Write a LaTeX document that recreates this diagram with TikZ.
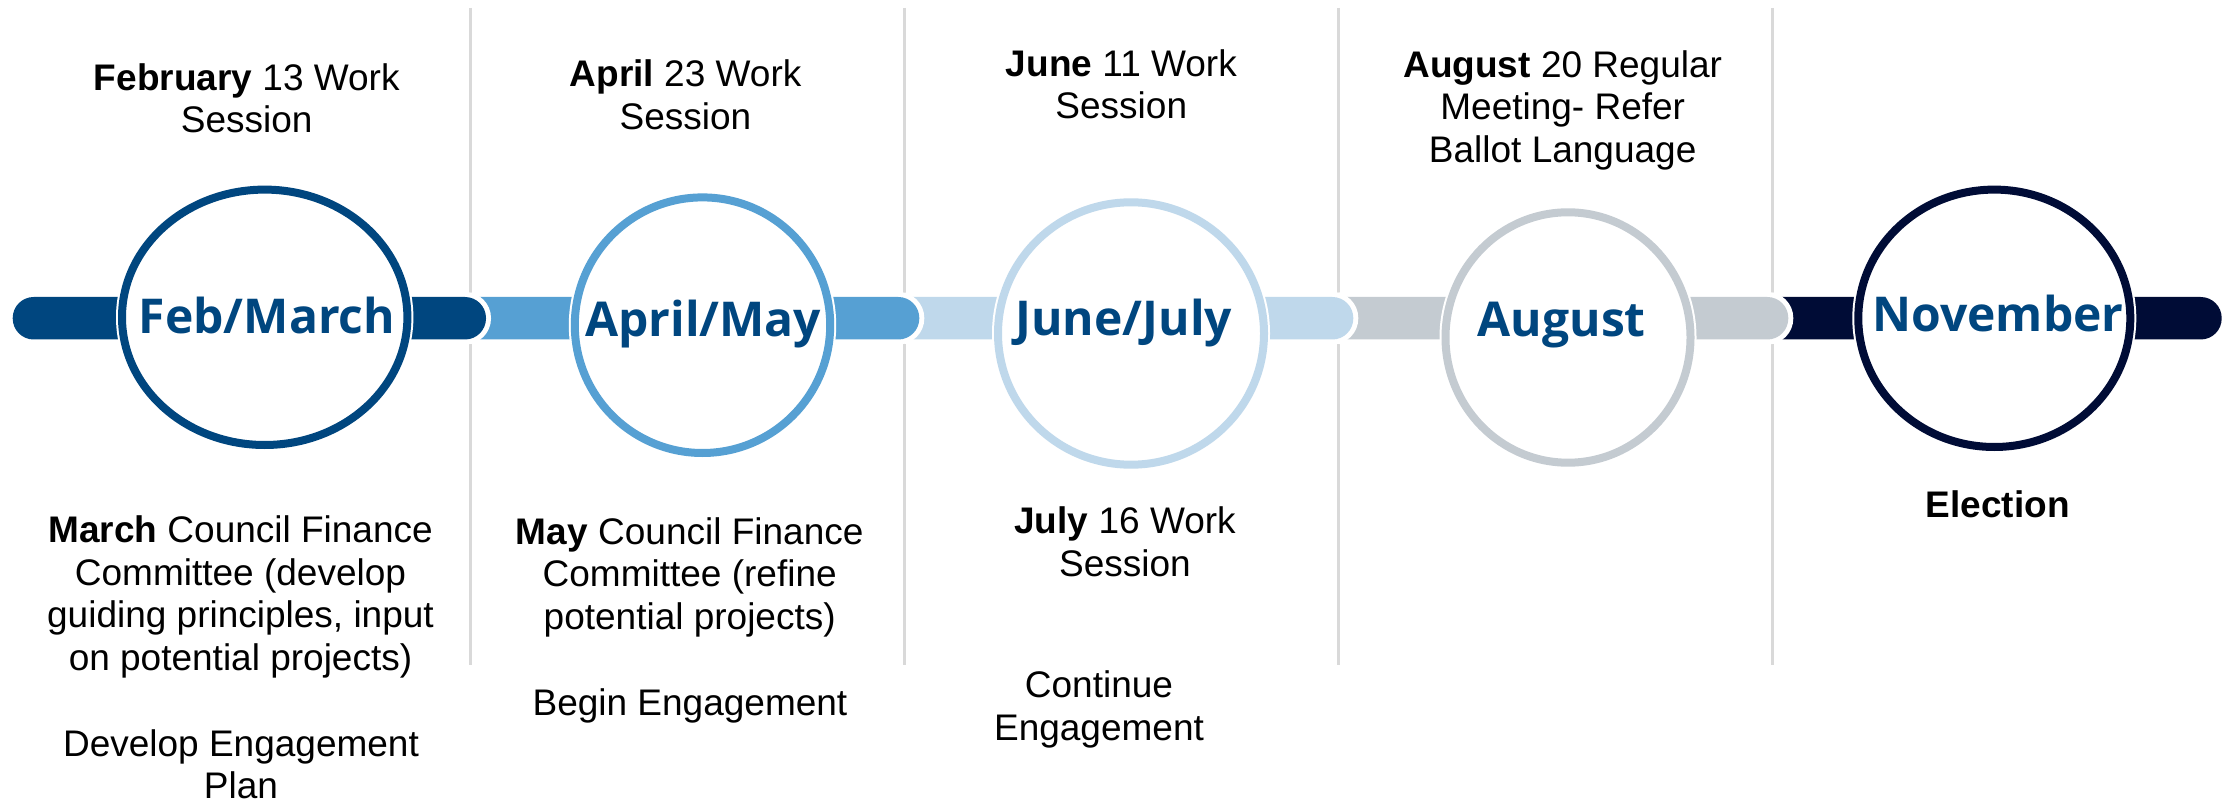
\documentclass[tikz,border=0pt]{standalone}
\usepackage{fontspec}
\setmainfont{Liberation Sans}
\newfontfamily\labfont{Open Sans}
\usetikzlibrary{shapes.geometric}
\definecolor{segA}{HTML}{00467F}
\definecolor{segB}{HTML}{56A0D3}
\definecolor{segC}{HTML}{BFD8EB}
\definecolor{segD}{HTML}{C4CBD1}
\definecolor{segE}{HTML}{000C36}
\definecolor{labblue}{HTML}{00467F}
\definecolor{sepgray}{HTML}{D9D9D9}
\tikzset{
  txt/.style={font=\fontsize{37}{42.5}\selectfont, align=center, inner sep=0pt, anchor=base, text=black},
  lab/.style={font=\labfont\bfseries\fontsize{48}{52}\selectfont, text=labblue, inner sep=0pt, anchor=base},
  ring/.style={ellipse, inner sep=0pt, fill=white, line width=8pt, preaction={draw=white, line width=12pt}},
  sep/.style={draw=sepgray, line width=3pt},
  halo/.style={fill=white, rounded corners=26pt},
  seg/.style={rounded corners=21pt}
}
\begin{document}
\begin{tikzpicture}[x=1pt,y=-1pt]
\useasboundingbox (0,0) rectangle (2236,802);
\fill[white] (0,0) rectangle (2236,802);
% separators
\foreach \sx in {470.5,904,1338.5,1772.5} {
  \draw[sep] (\sx,8) -- (\sx,665);
}
% bar segments, last first
\fill[halo] (1753,292) rectangle (2226.7,344.5);
\fill[segE,seg] (1758,297) rectangle (2221.7,339.5);
\fill[halo] (1318,292) rectangle (1793.3,344.5);
\fill[segD,seg] (1323,297) rectangle (1788.3,339.5);
\fill[halo] (885,292) rectangle (1358.3,344.5);
\fill[segC,seg] (890,297) rectangle (1353.3,339.5);
\fill[halo] (451,292) rectangle (924.3,344.5);
\fill[segB,seg] (456,297) rectangle (919.3,339.5);
\fill[halo] (7.7,292) rectangle (491,344.5);
\fill[segA,seg] (12.7,297) rectangle (486,339.5);
% rings
\node[ring, draw=segA, minimum width=285.4pt, minimum height=255.4pt] (c1) at (264.7,317.3) {};
\node[ring, draw=segB, minimum width=255.4pt, minimum height=255.6pt] (c2) at (702.5,325.2) {};
\node[ring, draw=segC, minimum width=266pt, minimum height=262.4pt] (c3) at (1131,333.5) {};
\node[ring, draw=segD, minimum width=245pt, minimum height=250.4pt] (c4) at (1568,337.5) {};
\node[ring, draw=segE, minimum width=272pt, minimum height=257.4pt] (c5) at (1994.3,318.3) {};
% ring labels
\node[lab] (l1) at (267,333.3) {Feb/March};
\node[lab] (l2) at (703.3,336.7) {April/May};
\node[lab] (l3) at (1123.7,336) {June/July};
\node[lab] (l4) at (1561.7,336.7) {August};
\node[lab] (l5) at (1998,331) {November};
% texts (anchor = baseline of last line)
\node[txt] (t1) at (246.7,133) {\textbf{February} 13 Work\\Session};
\node[txt] (b1) at (240.5,670) {\textbf{March} Council Finance\\Committee (develop\\guiding principles, input\\on potential projects)};
\node[txt] (b1b) at (241,798.5) {Develop Engagement\\Plan};
\node[txt] (t2) at (685.5,129.3) {\textbf{April} 23 Work\\Session};
\node[txt] (b2) at (689.7,629.2) {\textbf{May} Council Finance\\Committee (refine\\potential projects)};
\node[txt] (b2b) at (690,715.3) {Begin Engagement};
\node[txt] (t3) at (1121.3,119) {\textbf{June} 11 Work\\Session};
\node[txt] (b3) at (1125,576) {\textbf{July} 16 Work\\Session};
\node[txt] (b3b) at (1099,740.3) {Continue\\Engagement};
\node[txt] (t4) at (1562.7,162.3) {\textbf{August} 20 Regular\\Meeting- Refer\\Ballot Language};
\node[txt] (b5) at (1997.7,517.7) {\textbf{Election}};
\end{tikzpicture}
\end{document}
